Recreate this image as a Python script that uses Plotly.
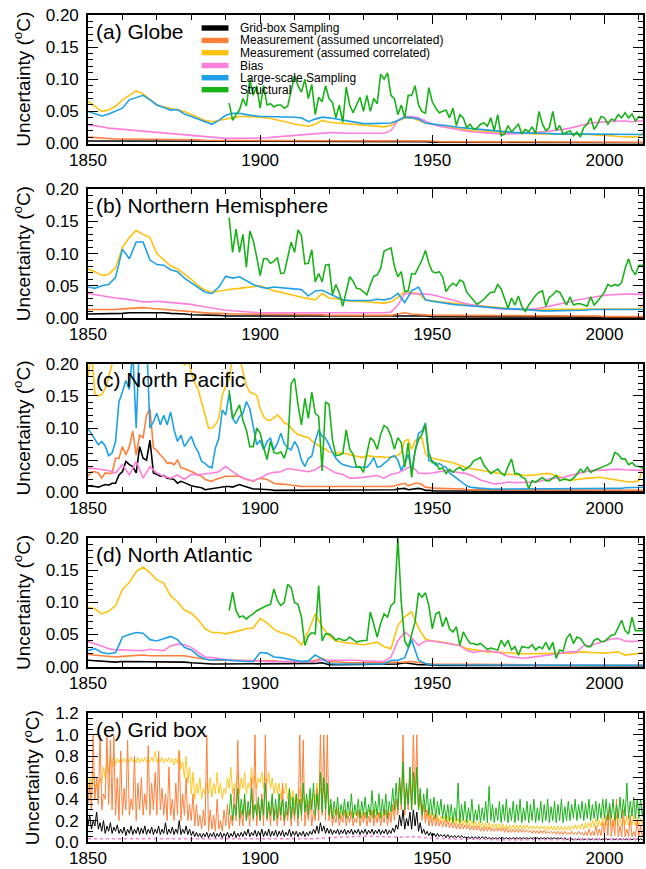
import plotly.graph_objects as go

# ---------------- x grids ----------------
YEARS1 = list(range(1850, 2013))          # annual
YEARS2 = list(range(1850, 2013, 2))       # every second year
YEARS_S = list(range(1891, 2013))         # structural (annual)
YEARS_H = [1850 + 0.5 * i for i in range(324)]   # half-yearly, grid box
YEARS_HS = [1891 + 0.5 * i for i in range(242)]  # half-yearly structural, grid box
YEARS5 = list(range(1850, 2011, 5))

NAMES = ["Grid-box Sampling", "Measurement (assumed uncorrelated)",
         "Measurement (assumed correlated)", "Bias", "Large-scale Sampling", "Structural"]
COLORS = ["#000000", "#FF7F3A", "#FFC20E", "#FF7FDD", "#1EA0E6", "#19B219"]
PANEL_LABELS = ["(a) Globe", "(b) Northern Hemisphere", "(c) North Pacific",
                "(d) North Atlantic", "(e) Grid box"]

# ---------------- (a) Globe ----------------
a_black = [.004,.004,.004,.004,.004,.004,.004,.004,.004,.004,
           .004,.004,.004,.004,.004,.003,.003,.003,.003,.003,
           .003,.003,.003,.003,.003,.003,.003,.003,.003,.003,
           .003,.003,.003,.003,.003,.003,.003,.003,.003,.003,
           .003,.003,.003,.003,.003,.003,.003,.003,.003,.003,
           .002,.002,.002,.002,.002,.002,.002,.002,.002,.002,
           .002,.002,.002,.002,.002,.001,.001,.001,.001,.001,
           .001,.001,.001,.001,.001,.001,.001,.001,.001,.001,
           .001,.001]
a_orange = [.010,.009,.008,.007,.007,.007,.007,.007,.007,.007,
            .007,.007,.007,.007,.006,.006,.006,.005,.005,.005,
            .005,.005,.005,.005,.005,.005,.005,.005,.004,.004,
            .004,.004,.004,.004,.004,.004,.004,.004,.004,.004,
            .004,.004,.004,.004,.004,.005,.005,.005,.004,.004,
            .004,.003,.003,.003,.003,.003,.003,.003,.003,.003,
            .003,.003,.003,.003,.003,.003,.003,.003,.003,.003,
            .003,.003,.003,.003,.003,.002,.002,.002,.002,.002,
            .002,.002]
a_yellow = [.066,.058,.050,.052,.058,.068,.075,.082,.077,.068,
            .060,.057,.055,.053,.050,.045,.040,.036,.034,.036,
            .039,.041,.042,.042,.042,.041,.040,.038,.036,.033,
            .030,.028,.027,.030,.036,.033,.032,.031,.030,.030,
            .029,.028,.027,.026,.028,.035,.040,.040,.036,.032,
            .030,.028,.026,.025,.023,.021,.020,.020,.019,.018,
            .017,.016,.016,.016,.015,.015,.015,.015,.015,.015,
            .015,.015,.014,.014,.013,.013,.012,.011,.010,.010,
            .011,.020]
a_pink = [.029,.028,.026,.024,.023,.022,.021,.020,.019,.018,
          .017,.016,.015,.014,.013,.012,.011,.010,.009,.008,
          .008,.008,.008,.008,.008,.008,.009,.010,.011,.012,
          .013,.014,.015,.016,.017,.017,.017,.016,.016,.016,
          .016,.017,.016,.016,.020,.036,.042,.042,.040,.035,
          .030,.027,.025,.022,.020,.019,.018,.017,.016,.016,
          .015,.015,.015,.016,.016,.017,.018,.019,.020,.022,
          .024,.027,.030,.032,.033,.034,.035,.035,.035,.034,
          .035,.035]
a_blue = [.050,.046,.043,.046,.050,.055,.068,.072,.075,.068,
          .060,.056,.052,.053,.046,.042,.038,.034,.030,.036,
          .044,.047,.047,.045,.043,.042,.042,.042,.042,.042,
          .041,.040,.034,.038,.041,.040,.038,.036,.034,.032,
          .031,.031,.031,.031,.032,.036,.041,.040,.038,.032,
          .030,.029,.028,.026,.025,.024,.023,.021,.020,.019,
          .018,.018,.017,.017,.016,.016,.016,.015,.015,.015,
          .015,.015,.015,.015,.015,.014,.014,.014,.014,.014,
          .014,.014]
a_green = [.063,.036,.045,.052,.070,.058,.100,.075,.090,.055,
           .090,.060,.062,.057,.060,.060,.055,.058,.082,.105,
           .090,.080,.100,.070,.092,.045,.072,.065,.090,.070,
           .064,.040,.060,.033,.088,.060,.048,.060,.072,.050,
           .075,.050,.070,.062,.108,.100,.110,.075,.070,.045,
           .060,.040,.075,.075,.090,.060,.050,.047,.087,.065,
           .055,.048,.050,.052,.040,.055,.028,.045,.040,.025,
           .030,.022,.024,.030,.032,.027,.040,.020,.045,.012,
           .015,.028,.018,.024,.030,.015,.022,.018,.026,.015,
           .050,.030,.020,.025,.050,.020,.028,.015,.018,.020,
           .012,.018,.010,.025,.030,.040,.022,.030,.042,.040,
           .030,.038,.036,.045,.040,.048,.040,.046,.035,.042,
           .040,.048]

# ---------------- (b) Northern Hemisphere ----------------
b_black = [.006,.006,.006,.007,.007,.007,.008,.008,.009,.009,
           .008,.008,.007,.007,.006,.005,.005,.004,.004,.004,
           .003,.003,.003,.003,.003,.003,.003,.003,.003,.003,
           .003,.003,.003,.003,.003,.003,.003,.003,.003,.003,
           .003,.003,.003,.003,.003,.003,.004,.003,.003,.003,
           .002,.002,.002,.002,.002,.002,.002,.002,.002,.002,
           .002,.002,.002,.002,.002,.001,.001,.001,.001,.001,
           .001,.001,.001,.001,.001,.001,.001,.001,.001,.001,
           .001,.001]
b_orange = [.013,.013,.012,.012,.013,.014,.015,.016,.016,.015,
            .014,.013,.012,.012,.011,.010,.009,.008,.007,.007,
            .006,.006,.006,.006,.006,.005,.005,.005,.005,.005,
            .005,.005,.005,.005,.005,.004,.004,.004,.004,.004,
            .004,.004,.004,.004,.004,.006,.008,.006,.005,.004,
            .004,.004,.004,.004,.004,.003,.003,.003,.003,.003,
            .003,.003,.003,.003,.003,.003,.003,.003,.003,.003,
            .003,.003,.003,.003,.003,.002,.002,.002,.002,.002,
            .002,.002]
b_yellow = [.076,.072,.066,.068,.078,.110,.125,.136,.130,.125,
            .100,.090,.081,.076,.068,.060,.050,.043,.040,.042,
            .044,.045,.046,.047,.048,.050,.046,.042,.040,.037,
            .035,.032,.030,.028,.038,.031,.030,.028,.026,.026,
            .025,.025,.024,.023,.025,.032,.041,.040,.038,.028,
            .026,.025,.024,.023,.022,.020,.019,.018,.017,.016,
            .015,.014,.014,.013,.013,.013,.013,.013,.013,.013,
            .013,.013,.013,.013,.013,.013,.013,.013,.013,.013,
            .014,.024]
b_pink = [.038,.036,.034,.032,.031,.030,.028,.026,.025,.025,
          .026,.025,.024,.024,.023,.021,.019,.017,.015,.013,
          .012,.011,.010,.009,.009,.008,.008,.008,.007,.007,
          .007,.007,.007,.008,.008,.008,.008,.008,.008,.008,
          .008,.008,.008,.008,.009,.020,.038,.038,.037,.037,
          .036,.033,.030,.027,.024,.022,.020,.018,.016,.015,
          .014,.013,.013,.013,.013,.014,.016,.018,.020,.022,
          .025,.028,.030,.032,.034,.035,.036,.037,.037,.037,
          .036,.036]
b_blue = [.048,.046,.050,.052,.063,.107,.092,.118,.118,.090,
          .083,.082,.075,.072,.062,.055,.048,.040,.038,.048,
          .065,.062,.064,.058,.052,.048,.046,.048,.047,.046,
          .044,.044,.034,.042,.043,.038,.033,.028,.027,.027,
          .027,.027,.029,.028,.030,.038,.024,.042,.048,.028,
          .026,.024,.022,.021,.020,.019,.018,.017,.016,.016,
          .015,.014,.014,.013,.012,.012,.011,.011,.011,.011,
          .011,.012,.012,.013,.013,.013,.014,.014,.014,.013,
          .013,.013]
b_green = [.156,.102,.138,.102,.130,.079,.135,.120,.095,.066,
           .092,.092,.085,.088,.094,.069,.070,.095,.118,.102,
           .137,.128,.084,.085,.106,.056,.069,.056,.082,.083,
           .036,.052,.039,.018,.040,.064,.057,.046,.045,.040,
           .036,.052,.065,.067,.077,.104,.106,.109,.080,.064,
           .072,.041,.042,.069,.068,.080,.090,.105,.085,.072,
           .070,.072,.064,.041,.049,.054,.050,.059,.056,.040,
           .034,.028,.021,.025,.029,.035,.040,.040,.052,.045,
           .030,.015,.031,.020,.034,.018,.010,.020,.027,.035,
           .040,.042,.018,.032,.036,.042,.040,.030,.020,.033,
           .020,.022,.022,.020,.018,.033,.020,.026,.033,.040,
           .052,.049,.052,.050,.055,.077,.092,.075,.067,.082,
           .082,.082]

# ---------------- (c) North Pacific ----------------
c_black = [.010,.010,.009,.008,.010,.012,.011,.014,.014,.027,
           .032,.048,.043,.040,.030,.071,.053,.050,.081,.030,
           .028,.025,.026,.022,.021,.020,.014,.017,.015,.012,
           .010,.009,.008,.007,.004,.005,.006,.007,.008,.008,
           .009,.009,.008,.010,.012,.010,.008,.006,.005,.005,
           .005,.004,.004,.004,.003,.003,.003,.003,.003,.003,
           .003,.003,.003,.003,.003,.003,.003,.003,.003,.003,
           .003,.003,.003,.003,.003,.003,.003,.003,.003,.003,
           .003,.003,.003,.003,.003,.003,.003,.003,.003,.004,
           .005,.005,.006,.004,.005,.006,.006,.005,.003,.003,
           .002,.002,.002,.002,.002,.002,.002,.002,.002,.002,
           .002,.002,.002,.002,.002,.002,.002,.002,.002,.002,
           .001,.001,.001,.001,.001,.001,.001,.001,.001,.001,
           .001,.001,.001,.001,.001,.001,.001,.001,.001,.001,
           .001,.001,.001,.001,.001,.001,.001,.001,.001,.001,
           .001,.001,.001,.001,.001,.001,.001,.001,.001,.001,
           .001,.001,.001]
c_orange = [.025,.032,.032,.030,.022,.030,.029,.030,.053,.053,
            .071,.058,.071,.095,.058,.089,.085,.120,.130,.069,
            .065,.058,.053,.045,.046,.043,.050,.038,.037,.035,
            .033,.030,.027,.025,.020,.018,.017,.020,.022,.024,
            .025,.025,.025,.025,.025,.022,.020,.018,.017,.020,
            .022,.021,.020,.017,.014,.013,.013,.012,.012,.011,
            .011,.010,.009,.009,.009,.009,.009,.009,.009,.009,
            .009,.008,.008,.008,.008,.008,.008,.008,.008,.008,
            .008,.008,.008,.008,.008,.008,.008,.008,.009,.010,
            .012,.013,.014,.010,.012,.014,.014,.012,.008,.007,
            .007,.006,.006,.006,.006,.005,.005,.005,.005,.005,
            .004,.004,.004,.004,.004,.004,.004,.004,.004,.004,
            .004,.004,.004,.004,.004,.004,.004,.004,.004,.004,
            .003,.003,.003,.003,.003,.003,.003,.003,.003,.003,
            .003,.003,.003,.003,.003,.003,.003,.003,.003,.003,
            .003,.003,.003,.003,.003,.003,.003,.003,.003,.003,
            .003,.003,.003]
c_yellow = [.180,.220,.152,.150,.152,.161,.179,.200,.250,.250,
            .250,.250,.250,.250,.250,.250,.250,.250,.250,.250,
            .250,.250,.250,.250,.250,.250,.250,.230,.197,.210,
            .185,.170,.160,.140,.118,.100,.100,.105,.115,.151,
            .165,.177,.210,.230,.210,.187,.166,.156,.153,.151,
            .130,.118,.112,.112,.116,.120,.115,.108,.106,.100,
            .094,.090,.088,.087,.085,.080,.076,.072,.069,.067,
            .063,.062,.062,.062,.061,.060,.058,.057,.056,.055,
            .054,.057,.056,.056,.055,.055,.054,.054,.055,.055,
            .058,.062,.080,.082,.067,.080,.084,.085,.060,.054,
            .053,.052,.050,.049,.048,.047,.046,.044,.042,.039,
            .038,.037,.036,.035,.034,.034,.033,.032,.031,.030,
            .029,.028,.028,.028,.027,.027,.027,.026,.026,.026,
            .027,.028,.029,.029,.029,.028,.026,.024,.023,.020,
            .018,.019,.020,.021,.021,.022,.022,.023,.023,.023,
            .022,.021,.020,.019,.018,.017,.017,.016,.016,.017,
            .018,.036,.040]
c_pink = [.038,.037,.035,.034,.030,.043,.027,.048,.022,.040,
          .030,.025,.022,.027,.020,.028,.027,.028,.030,.032,
          .040,.032,.025,.020,.018,.022,.028,.031,.032,.037,
          .035,.033,.032,.035,.042,.036,.030,.028,.022,.022,
          .023,.025,.026,.022,.028,.030,.036,.041,.030,.029,
          .030,.032,.034,.032,.030,.029,.025,.019,.016,.013,
          .014,.016,.015,.015,.015,.016,.018,.021,.022,.023,
          .026,.029,.032,.034,.034,.035,.036,.036,.035,.034,
          .034,.034]
c_blue = [.099,.090,.081,.074,.079,.072,.057,.061,.079,.141,
          .156,.174,.160,.220,.100,.240,.240,.240,.100,.110,
          .123,.105,.120,.105,.125,.097,.079,.089,.071,.080,
          .087,.072,.063,.048,.045,.040,.038,.069,.084,.128,
          .120,.154,.115,.107,.118,.123,.141,.130,.099,.074,
          .081,.066,.079,.084,.066,.076,.092,.076,.069,.066,
          .079,.070,.050,.040,.053,.056,.080,.097,.087,.084,
          .074,.062,.053,.047,.043,.041,.040,.039,.039,.039,
          .039,.039,.045,.054,.039,.040,.045,.049,.055,.057,
          .050,.034,.045,.059,.034,.065,.092,.095,.108,.049,
          .049,.042,.045,.041,.039,.030,.026,.022,.017,.013,
          .010,.008,.007,.006,.006,.006,.005,.005,.005,.005,
          .005,.005,.005,.005,.005,.005,.005,.005,.005,.005,
          .005,.005,.005,.005,.005,.005,.005,.005,.005,.005,
          .005,.005,.005,.005,.005,.005,.005,.005,.005,.005,
          .006,.006,.006,.006,.006,.006,.007,.007,.007,.008,
          .008,.008,.008]
c_green = [.159,.115,.125,.136,.112,.097,.071,.071,.100,.092,
           .070,.051,.079,.062,.060,.063,.053,.071,.169,.177,
           .136,.105,.146,.115,.156,.123,.118,.033,.140,.137,
           .082,.057,.058,.060,.097,.067,.059,.039,.040,.031,
           .060,.085,.080,.067,.090,.104,.100,.087,.067,.085,
           .077,.039,.077,.023,.065,.082,.090,.105,.062,.046,
           .046,.036,.038,.029,.036,.031,.036,.039,.034,.038,
           .041,.049,.052,.054,.042,.035,.029,.033,.036,.030,
           .026,.040,.052,.029,.029,.024,.021,.006,.018,.016,
           .020,.023,.018,.018,.022,.026,.018,.020,.020,.018,
           .022,.028,.036,.031,.039,.031,.034,.036,.038,.041,
           .043,.046,.062,.059,.052,.052,.043,.046,.041,.040,
           .038,.040]

# ---------------- (d) North Atlantic ----------------
d_black = [.010,.009,.008,.007,.007,.008,.008,.008,.008,.008,
           .008,.008,.008,.008,.007,.006,.005,.004,.004,.004,
           .004,.004,.004,.004,.004,.004,.004,.004,.004,.004,
           .004,.004,.004,.005,.006,.003,.003,.003,.003,.003,
           .003,.003,.003,.003,.003,.004,.006,.004,.003,.003,
           .002,.002,.002,.002,.002,.002,.002,.002,.002,.002,
           .001,.001,.001,.001,.001,.001,.001,.001,.001,.001,
           .001,.001,.001,.001,.001,.001,.001,.001,.001,.001,
           .001,.001]
d_orange = [.019,.018,.016,.015,.015,.016,.017,.018,.018,.017,
            .017,.017,.018,.018,.017,.015,.013,.011,.010,.010,
            .010,.010,.010,.010,.010,.010,.010,.009,.008,.008,
            .007,.007,.008,.010,.013,.008,.007,.006,.006,.006,
            .006,.006,.006,.006,.006,.007,.007,.008,.006,.005,
            .004,.004,.004,.003,.003,.003,.003,.003,.003,.003,
            .003,.003,.003,.003,.003,.002,.002,.002,.002,.002,
            .002,.002,.002,.002,.002,.002,.002,.002,.002,.002,
            .002,.002]
d_yellow = [.092,.090,.082,.086,.095,.120,.131,.148,.155,.146,
            .135,.130,.110,.101,.088,.083,.073,.059,.053,.053,
            .051,.053,.056,.059,.060,.075,.068,.058,.053,.050,
            .045,.034,.055,.082,.062,.048,.040,.038,.037,.035,
            .034,.036,.038,.031,.028,.064,.078,.085,.060,.043,
            .040,.039,.037,.036,.033,.028,.026,.025,.023,.023,
            .022,.021,.020,.020,.020,.020,.020,.020,.020,.020,
            .021,.022,.023,.022,.021,.021,.022,.023,.018,.019,
            .020,.022]
d_pink = [.039,.036,.032,.028,.026,.026,.025,.025,.025,.027,
          .026,.025,.032,.035,.034,.030,.022,.015,.014,.012,
          .011,.010,.010,.010,.009,.009,.008,.008,.007,.007,
          .007,.007,.007,.008,.010,.010,.011,.011,.010,.010,
          .009,.009,.008,.008,.015,.040,.054,.045,.033,.040,
          .040,.038,.037,.034,.033,.025,.022,.024,.025,.023,
          .021,.016,.014,.013,.014,.015,.016,.018,.020,.022,
          .023,.023,.033,.033,.037,.040,.043,.044,.040,.039,
          .040,.041]
d_blue = [.025,.028,.022,.020,.022,.046,.050,.053,.052,.042,
          .040,.044,.047,.042,.030,.026,.017,.012,.010,.011,
          .010,.010,.009,.008,.008,.022,.021,.015,.014,.012,
          .009,.008,.009,.018,.012,.005,.004,.004,.004,.004,
          .004,.004,.004,.004,.010,.010,.014,.042,.010,.005,
          .003,.003,.003,.003,.003,.003,.003,.003,.003,.003,
          .003,.003,.003,.003,.003,.002,.002,.002,.002,.002,
          .002,.002,.002,.002,.002,.002,.002,.002,.002,.002,
          .002,.002]
d_green = [.087,.116,.087,.077,.079,.074,.079,.082,.087,.090,
           .092,.095,.097,.121,.103,.095,.100,.128,.123,.100,
           .097,.077,.033,.048,.053,.051,.126,.040,.051,.051,
           .047,.041,.044,.041,.041,.046,.042,.038,.040,.040,
           .041,.085,.067,.046,.067,.082,.077,.095,.100,.200,
           .100,.040,.030,.050,.070,.115,.108,.115,.095,.059,
           .082,.085,.062,.077,.059,.054,.062,.033,.054,.044,
           .036,.036,.034,.036,.031,.027,.029,.028,.026,.041,
           .032,.041,.026,.031,.018,.031,.030,.029,.034,.026,
           .031,.028,.038,.026,.038,.013,.026,.024,.044,.051,
           .036,.046,.044,.036,.031,.031,.041,.044,.039,.039,
           .044,.049,.050,.062,.072,.056,.051,.077,.056,.056,
           .056,.056]

# ---------------- (e) Grid box (half-yearly readings) ----------------
e_black = [.15,.25,.12,.20,.15,.28,.12,.18,.10,.20,
           .08,.15,.10,.18,.08,.14,.10,.16,.08,.12,
           .08,.14,.06,.12,.08,.15,.07,.12,.08,.14,
           .07,.13,.08,.15,.07,.12,.08,.14,.07,.12,
           .08,.15,.07,.12,.08,.18,.07,.12,.08,.14,
           .07,.12,.08,.20,.07,.12,.08,.15,.07,.12,
           .06,.10,.05,.09,.05,.08,.04,.08,.05,.09,
           .04,.08,.05,.09,.04,.08,.05,.09,.04,.08,
           .05,.09,.04,.08,.05,.10,.04,.08,.05,.09,
           .05,.10,.06,.12,.05,.09,.06,.11,.05,.10,
           .06,.12,.05,.10,.06,.12,.05,.10,.06,.11,
           .05,.10,.06,.11,.05,.09,.06,.12,.05,.10,
           .06,.10,.05,.09,.06,.10,.05,.09,.06,.10,
           .07,.12,.08,.15,.08,.18,.10,.15,.08,.13,
           .08,.12,.07,.11,.08,.12,.07,.11,.08,.12,
           .07,.11,.08,.12,.07,.11,.08,.12,.07,.11,
           .08,.12,.07,.11,.08,.12,.07,.11,.08,.12,
           .07,.11,.08,.12,.07,.11,.08,.13,.09,.16,
           .12,.25,.15,.30,.12,.22,.15,.28,.12,.30,
           .15,.28,.10,.18,.08,.12,.07,.10,.06,.09,
           .05,.08,.05,.08,.05,.07,.05,.07,.04,.07,
           .04,.06,.04,.06,.04,.06,.04,.06,.04,.05,
           .03,.05,.03,.05,.03,.05,.03,.05,.03,.05,
           .03,.05,.03,.04,.03,.04,.03,.04,.03,.04,
           .03,.04,.03,.04,.03,.04,.03,.04,.03,.04,
           .03,.04,.03,.04,.03,.04,.03,.04,.03,.04,
           .03,.04,.03,.04,.03,.04,.03,.04,.03,.04,
           .03,.04,.03,.04,.03,.04,.02,.04,.02,.03,
           .02,.03,.02,.03,.02,.03,.02,.03,.02,.03,
           .02,.03,.02,.03,.02,.03,.02,.03,.02,.03,
           .02,.03,.02,.03,.02,.03,.02,.03,.02,.03,
           .02,.03,.02,.03,.02,.03,.02,.03,.02,.03,
           .02,.03,.02,.03]
e_orange = [.35,.55,.30,1.0,.40,.60,.35,1.0,.30,.45,
            .40,1.0,.35,.95,.30,1.0,.25,.60,.20,.85,
            .25,.50,.30,.95,.25,.40,.30,.80,.20,.55,
            .30,.60,.25,.45,.30,.90,.25,.55,.30,.65,
            .25,.85,.30,.50,.25,.45,.20,.70,.25,.40,
            .20,.55,.25,.85,.20,.45,.25,.60,.20,.35,
            .20,.45,.15,.35,.15,.25,.12,.30,.15,1.0,
            .10,.30,.12,.25,.10,.40,.12,.20,.10,.30,
            .15,.35,.12,.25,.15,.50,.20,.95,.15,.30,
            .15,.40,.20,.30,.15,.60,.20,1.0,.15,.35,
            .20,.45,.15,1.0,.20,.35,.15,.40,.20,.30,
            .15,.35,.20,.55,.15,.30,.20,.40,.15,.35,
            .20,.45,.15,1.0,.20,.95,.15,.35,.20,.40,
            .15,.30,.20,.50,.20,1.0,.25,1.0,.20,1.0,
            .20,.35,.15,.25,.18,.30,.15,.25,.18,.30,
            .15,.25,.18,.28,.15,.22,.18,.30,.15,.25,
            .18,.28,.15,.24,.18,.30,.15,.25,.18,.28,
            .15,.25,.18,.30,.15,.28,.18,.35,.20,.40,
            .25,.60,.30,1.0,.25,.50,.30,.70,.30,1.0,
            .35,1.0,.30,.45,.20,.35,.18,.30,.15,.25,
            .15,.25,.15,.22,.15,.20,.14,.20,.14,.20,
            .13,.18,.13,.18,.12,.17,.12,.17,.12,.16,
            .12,.16,.11,.15,.11,.15,.11,.15,.10,.14,
            .10,.14,.10,.14,.10,.13,.10,.13,.10,.13,
            .10,.13,.09,.13,.09,.12,.09,.12,.09,.12,
            .09,.12,.09,.12,.09,.11,.09,.11,.08,.11,
            .08,.11,.08,.11,.08,.11,.08,.10,.08,.10,
            .08,.10,.07,.10,.07,.10,.07,.10,.07,.09,
            .07,.10,.07,.09,.07,.10,.07,.09,.06,.10,
            .06,.12,.06,.10,.06,.15,.06,.12,.06,.18,
            .06,.25,.06,.35,.05,.20,.06,.40,.05,.15,
            .05,.30,.05,.12,.05,.25,.05,.10,.05,.20,
            .05,.15,.05,.12]
e_yellow = [.45,.60,.50,.65,.45,.55,.50,.60,.55,.70,
            .60,.75,.65,.80,.70,.80,.72,.78,.74,.78,
            .74,.78,.75,.78,.74,.79,.75,.78,.74,.79,
            .74,.78,.75,.79,.74,.78,.75,.79,.75,.85,
            .74,.78,.75,.79,.74,.78,.75,.79,.74,.78,
            .72,.78,.73,.86,.68,.75,.60,.80,.55,.70,
            .45,.65,.40,.55,.45,.60,.40,.50,.45,.55,
            .45,.60,.42,.55,.45,.65,.45,.55,.40,.50,
            .45,.60,.50,.70,.45,.55,.50,.65,.45,.60,
            .50,.65,.45,.55,.50,.70,.55,.62,.50,.60,
            .55,.65,.50,.60,.55,.65,.50,.60,.45,.55,
            .45,.55,.40,.50,.45,.55,.40,.50,.38,.48,
            .35,.45,.38,.50,.35,.42,.33,.40,.35,.45,
            .35,.45,.38,.55,.35,.50,.40,.60,.35,.55,
            .25,.35,.22,.30,.25,.32,.22,.28,.24,.30,
            .22,.28,.24,.30,.22,.28,.24,.30,.22,.28,
            .22,.28,.24,.30,.22,.28,.24,.30,.22,.28,
            .22,.28,.24,.30,.22,.28,.25,.32,.28,.40,
            .35,.55,.40,.70,.35,.50,.40,.60,.35,.55,
            .40,.65,.30,.40,.25,.35,.22,.30,.22,.28,
            .20,.26,.20,.25,.19,.24,.19,.24,.18,.24,
            .18,.23,.17,.22,.17,.22,.16,.21,.16,.21,
            .15,.20,.15,.20,.14,.19,.14,.19,.14,.18,
            .13,.18,.13,.18,.13,.17,.13,.17,.12,.17,
            .12,.17,.12,.16,.12,.16,.12,.16,.12,.16,
            .12,.16,.12,.16,.12,.16,.12,.15,.12,.15,
            .12,.15,.12,.15,.12,.15,.11,.15,.11,.15,
            .11,.15,.11,.15,.11,.15,.11,.14,.11,.15,
            .11,.15,.12,.16,.12,.16,.12,.17,.12,.18,
            .13,.18,.13,.20,.14,.22,.14,.20,.15,.22,
            .15,.22,.15,.25,.15,.22,.16,.25,.15,.22,
            .15,.22,.16,.24,.15,.22,.16,.25,.15,.22,
            .15,.22,.16,.24]
e_pink = [.03,.03,.03,.03,.03,.03,.03,.03,.03,.03,
          .03,.03,.03,.03,.04,.05,.055,.05,.045,.05,
          .035,.03,.025,.02,.02,.02,.02,.02,.02,.022,
          .025,.025,.025]
e_green = [.25,.45,.20,.35,.25,.50,.22,.40,
           .25,.45,.20,.38,.25,.50,.22,.35,.25,.42,
           .20,.40,.25,.55,.22,.38,.25,.45,.20,.40,
           .22,.45,.25,.40,.20,.38,.25,.50,.22,.42,
           .25,.45,.22,.40,.25,.55,.28,.45,.25,.50,
           .30,.55,.25,.45,.30,.65,.28,.60,.30,.55,
           .25,.40,.22,.38,.25,.42,.22,.35,.25,.40,
           .22,.38,.25,.45,.22,.35,.25,.40,.22,.38,
           .25,.42,.22,.35,.25,.48,.22,.38,.25,.45,
           .22,.40,.25,.45,.22,.38,.28,.50,.30,.55,
           .30,.60,.35,.75,.30,.55,.35,.70,.30,.65,
           .35,.70,.30,.50,.25,.45,.28,.50,.25,.40,
           .25,.42,.22,.38,.25,.40,.22,.35,.20,.35,
           .20,.35,.18,.32,.20,.55,.18,.35,.20,.38,
           .18,.32,.20,.40,.18,.30,.20,.35,.18,.32,
           .20,.38,.18,.52,.20,.35,.18,.32,.20,.38,
           .18,.35,.20,.40,.18,.32,.20,.38,.18,.35,
           .20,.40,.18,.32,.20,.38,.18,.35,.20,.40,
           .18,.32,.20,.38,.18,.35,.20,.40,.18,.33,
           .20,.38,.18,.35,.20,.40,.18,.33,.20,.38,
           .20,.35,.22,.40,.20,.35,.22,.38,.20,.36,
           .22,.40,.20,.35,.22,.38,.20,.36,.22,.40,
           .22,.40,.20,.36,.22,.40,.20,.35,.22,.42,
           .22,.40,.24,.55,.22,.38,.24,.42,.22,.40,
           .22,.40,.24,.38]

# series lists per panel, in drawing order
PANELS = [
    [(0, YEARS2, a_black), (1, YEARS2, a_orange), (2, YEARS2, a_yellow),
     (3, YEARS2, a_pink), (4, YEARS2, a_blue), (5, YEARS_S, a_green)],
    [(0, YEARS2, b_black), (1, YEARS2, b_orange), (2, YEARS2, b_yellow),
     (3, YEARS2, b_pink), (4, YEARS2, b_blue), (5, YEARS_S, b_green)],
    [(0, YEARS1, c_black), (1, YEARS1, c_orange), (2, YEARS1, c_yellow),
     (3, YEARS2, c_pink), (4, YEARS1, c_blue), (5, YEARS_S, c_green)],
    [(0, YEARS2, d_black), (1, YEARS2, d_orange), (2, YEARS2, d_yellow),
     (3, YEARS2, d_pink), (4, YEARS2, d_blue), (5, YEARS_S, d_green)],
    [(2, YEARS_H, e_yellow), (1, YEARS_H, e_orange), (0, YEARS_H, e_black),
     (3, YEARS5, e_pink), (5, YEARS_HS, e_green)],
]

for p in PANELS:
    for _, xs, ys in p:
        assert len(xs) == len(ys), (len(xs), len(ys))

FONT = "Liberation Sans, Arial, Helvetica, sans-serif"
H_PLOT = 869 - 15 - 24
tops = [15, 190, 365, 540, 716]
heights = [129, 129, 129, 129, 129]

fig = go.Figure()
for i, series in enumerate(PANELS):
    ax = "" if i == 0 else str(i + 1)
    for ci, xs, ys in series:
        lw = 1.6 if i < 4 else 1.0
        dash = "solid"
        if i == 4 and ci == 2:
            lw = 0.9
        if i == 4 and ci == 3:
            dash = "dot"
            lw = 1.6
        fig.add_trace(go.Scatter(x=xs, y=ys, mode="lines", name=NAMES[ci],
                                 line=dict(color=COLORS[ci], width=lw, dash=dash),
                                 xaxis="x" + ax, yaxis="y" + ax,
                                 hoverinfo="skip", showlegend=False))

layout = dict(width=646, height=869, margin=dict(l=88, r=1, t=15, b=24),
              plot_bgcolor="white", paper_bgcolor="white", showlegend=False,
              font=dict(family=FONT, color="black", size=17))

for i in range(5):
    ax = "" if i == 0 else str(i + 1)
    top = tops[i]
    bottom = top + heights[i]
    d0 = (869 - 24 - bottom) / H_PLOT
    d1 = min((869 - 24 - top) / H_PLOT, 1.0)
    layout["xaxis" + ax] = dict(
        domain=[0, 1], range=[1850, 2011.2], anchor="y" + ax,
        tickvals=[1850, 1900, 1950, 2000], ticktext=["1850", "1900", "1950", "2000"],
        ticks="inside", ticklen=9, tickwidth=1.3, tickcolor="black",
        minor=dict(tick0=1850, dtick=10, ticks="inside", ticklen=5, tickwidth=1.1, tickcolor="black"),
        showline=True, linewidth=1.6, linecolor="black", mirror="ticks",
        showgrid=False, zeroline=False, tickfont=dict(size=17, family=FONT))
    if i < 4:
        yr = [0, 0.2]
        tv = [0, 0.05, 0.10, 0.15, 0.20]
        tt = ["0.00", "0.05", "0.10", "0.15", "0.20"]
        mdt = 0.01
    else:
        yr = [0, 1.2]
        tv = [0, 0.2, 0.4, 0.6, 0.8, 1.0, 1.2]
        tt = ["0.0", "0.2", "0.4", "0.6", "0.8", "1.0", "1.2"]
        mdt = 0.05
    layout["yaxis" + ax] = dict(
        domain=[d0, d1], range=yr, anchor="x" + ax,
        tickvals=tv, ticktext=tt,
        ticks="inside", ticklen=10, tickwidth=1.3, tickcolor="black",
        minor=dict(tick0=0, dtick=mdt, ticks="inside", ticklen=5, tickwidth=1.1, tickcolor="black"),
        showline=True, linewidth=1.6, linecolor="black", mirror="ticks",
        showgrid=False, zeroline=False, tickfont=dict(size=17, family=FONT),
        ticklabelstandoff=4,
        title=dict(text="Uncertainty (<sup>o</sup>C)", font=dict(size=19, family=FONT), standoff=10))

fig.update_layout(**layout)

annotations = []
shapes = []
for i in range(5):
    ax = "" if i == 0 else str(i + 1)
    annotations.append(dict(text=PANEL_LABELS[i], xref="x" + ax + " domain", yref="y" + ax + " domain",
                            x=0.013, y=0.875, xanchor="left", yanchor="middle", showarrow=False,
                            borderpad=0,
                            font=dict(size=21, family=FONT, color="black")))

# legend (panel a)
row_y = [0.899, 0.802, 0.707, 0.607, 0.512, 0.419]
for k in range(6):
    shapes.append(dict(type="rect", xref="x domain", yref="y domain",
                       x0=0.2047, x1=0.2531, y0=row_y[k] - 0.021, y1=row_y[k] + 0.021,
                       fillcolor=COLORS[k], line=dict(width=0), layer="above"))
    annotations.append(dict(text=NAMES[k], xref="x domain", yref="y domain",
                            x=0.2729, y=row_y[k], xanchor="left", yanchor="middle", showarrow=False,
                            borderpad=0,
                            font=dict(size=12, family=FONT, color="black")))

fig.update_layout(annotations=annotations, shapes=shapes)
fig.write_html("out.html")
